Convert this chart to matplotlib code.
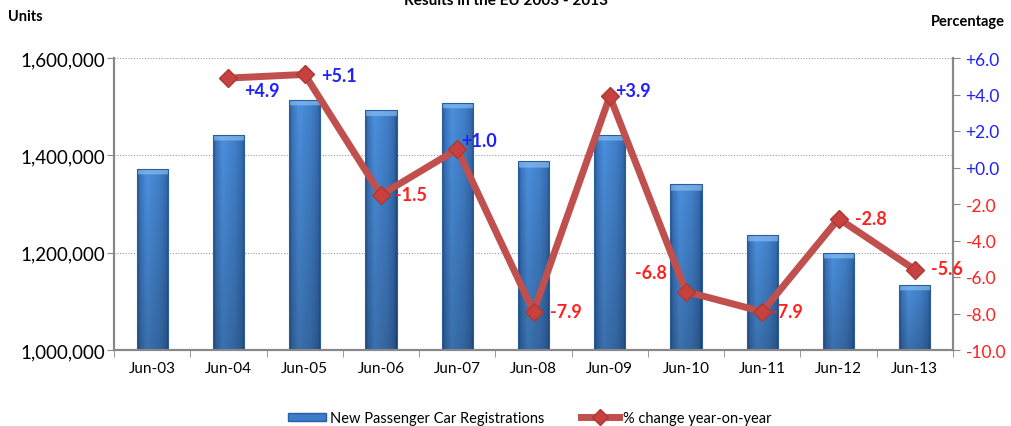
import matplotlib
matplotlib.use("Agg")
import matplotlib.pyplot as plt
import numpy as np
from matplotlib.lines import Line2D
from matplotlib.patches import Patch
from matplotlib.colors import to_rgb

plt.rcParams['font.family'] = ['Lato', 'DejaVu Sans']

categories = ["Jun-03", "Jun-04", "Jun-05", "Jun-06", "Jun-07", "Jun-08",
              "Jun-09", "Jun-10", "Jun-11", "Jun-12", "Jun-13"]
registrations = [1372000, 1442000, 1514000, 1493000, 1508000, 1388000,
                 1442000, 1341000, 1236000, 1200000, 1134000]
pct_change = [np.nan, 4.9, 5.1, -1.5, 1.0, -7.9, 3.9, -6.8, -7.9, -2.8, -5.6]
left_ticks = [1000000, 1200000, 1400000, 1600000]
right_ticks = [-10, -8, -6, -4, -2, 0, 2, 4, 6]

fig = plt.figure(figsize=(10.11, 4.27), dpi=100)
ax = fig.add_axes([114/1011, 1-351/427, (953-114)/1011, (351-59)/427])
ax2 = ax.twinx()

x = np.arange(len(categories))
bar_color = '#3C7DCB'
bar_w = 0.41
bars = ax.bar(x, [r - 1000000 for r in registrations], bottom=1000000, width=bar_w,
              facecolor='none', edgecolor='#2B5E9E', linewidth=0.8, zorder=4)

# gradient fill for bars
nx, ny = 60, 200
u = np.linspace(0, 1, nx)
prof = np.interp(u, [0, 0.08, 0.3, 0.7, 0.92, 1], [0.0, 0.55, 1.0, 0.75, 0.45, 0.0])
dark = np.array(to_rgb('#244F8C'))
light = np.array(to_rgb('#4B90DE'))
for rect in bars:
    x0, y0 = rect.get_x(), rect.get_y()
    w, h = rect.get_width(), rect.get_height()
    v = np.linspace(0, 1, ny)[:, None]
    shade = (1 - 0.22 * v)
    img = dark[None, None, :] + (light - dark)[None, None, :] * prof[None, :, None]
    img = img * shade[:, :, None]
    cap_px = 6.0 / (h / 600000 * 292)
    capmask = (np.linspace(0, 1, ny) < cap_px)
    capcol = np.array(to_rgb('#8CC0F2'))
    img[capmask, :, :] = img[capmask, :, :] * 0.35 + capcol * 0.65
    img = np.clip(img, 0, 1)
    im = ax.imshow(img, extent=(x0, x0 + w, y0, y0 + h), aspect='auto',
                   origin='upper', zorder=3, interpolation='bilinear')
    im.set_clip_path(rect)

ax.set_ylim(1000000, 1600000)
ax.set_xlim(-0.5, len(categories) - 0.5)
ax.set_yticks(left_ticks)
ax.set_yticklabels([f"{v:,}" for v in left_ticks], fontsize=13.5)
ax.grid(axis='y', linestyle=(0, (1, 1.5)), color='#9a9a9a', linewidth=0.8, zorder=0)
ax.set_xticks(x)
ax.set_xticklabels(categories, fontsize=11)
ax.set_xticks(np.arange(-0.5, len(categories), 1), minor=True)
ax.tick_params(axis='x', which='major', length=0, pad=8)
ax.tick_params(axis='x', which='minor', length=5, color='#888888')
ax.tick_params(axis='y', length=5, color='#888888', pad=1.5)
for s in ['top']:
    ax.spines[s].set_visible(False)
    ax2.spines[s].set_visible(False)
for s in ['left', 'right', 'bottom']:
    ax.spines[s].set_color('#888888')
    ax2.spines[s].set_color('#888888')
    ax.spines[s].set_linewidth(1.5)
    ax2.spines[s].set_linewidth(1.5)

line_color = '#C0504D'
ax2.plot(x, pct_change, color=line_color, linewidth=5, marker='D',
         markersize=9, markerfacecolor='#C8413E', markeredgecolor='#A83A37', zorder=5)
ax2.set_ylim(-10, 6)
ax2.set_yticks(right_ticks)
ax2.set_yticklabels([(f"+{v:.1f}" if v >= 0 else f"{v:.1f}") for v in right_ticks], fontsize=12.5)
for lbl, v in zip(ax2.get_yticklabels(), right_ticks):
    lbl.set_color('#1F1FFF' if v >= 0 else '#FF1F1F')
ax2.tick_params(axis='y', length=5, color='#888888', pad=4)
ax.set_zorder(1)
ax2.set_zorder(2)
ax.patch.set_visible(False)

offsets = [None, (11.5, -8.6), (12, -1), (10, 0), (3, 6), (12, 0), (3.5, 4),
           (-14, 14), (6.5, 0), (11.5, 0), (11.5, 1)]
for i, (v, off) in enumerate(zip(pct_change, offsets)):
    if off is None or np.isnan(v):
        continue
    txt = f"+{v:.1f}" if v >= 0 else f"{v:.1f}"
    col = '#1F1FFF' if v >= 0 else '#FF1F1F'
    ha = 'right' if off[0] < 0 else 'left'
    ax2.annotate(txt, (i, v), xytext=off, textcoords='offset points',
                 ha=ha, va='center', fontsize=13, fontweight='bold', color=col, zorder=6)

fig.text(0.5, 1-5/427, "Results in the EU 2003 - 2013", ha='center', va='baseline',
         fontsize=11, fontweight='bold')
fig.text(8/1011, 1-17/427, "Units", ha='left', va='center', fontsize=10.5, fontweight='bold')
fig.text(1005/1011, 1-22/427, "Percentage", ha='right', va='center', fontsize=10.5, fontweight='bold')

handles = [Patch(facecolor=bar_color, edgecolor='#2B5E9E'),
           Line2D([0], [0], color=line_color, linewidth=5, marker='D', markersize=8,
                  markerfacecolor='#C8413E', markeredgecolor='#A83A37')]
fig.legend(handles, ["New Passenger Car Registrations", "% change year-on-year"],
           loc='center', bbox_to_anchor=(530/1011, 1-419/427), ncol=2, frameon=False,
           fontsize=10.5, handlelength=2.6, handleheight=0.45, columnspacing=2.5,
           handletextpad=0.27)

fig.savefig("out.png", dpi=100)
